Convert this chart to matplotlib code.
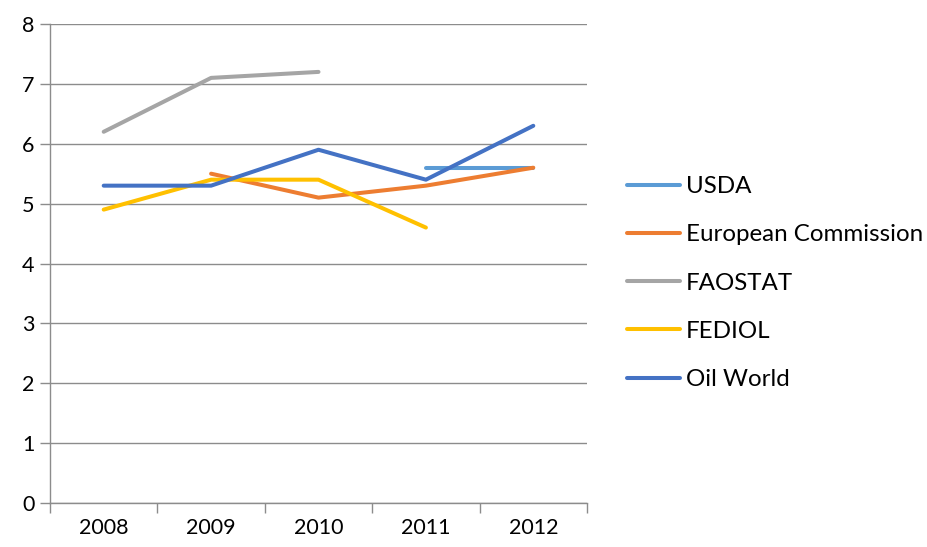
import numpy as np
import matplotlib
matplotlib.use("Agg")
import matplotlib.pyplot as plt

years = ["2008", "2009", "2010", "2011", "2012"]
usda = [np.nan, np.nan, np.nan, 5.6, 5.6]
eu_comm = [np.nan, 5.5, 5.1, 5.3, 5.6]
faostat = [6.2, 7.1, 7.2, np.nan, np.nan]
fediol = [4.9, 5.4, 5.4, 4.6, np.nan]
oil_world = [5.3, 5.3, 5.9, 5.4, 6.3]

series = [("USDA", usda, "#5B9BD5"),
          ("European Commission", eu_comm, "#ED7D31"),
          ("FAOSTAT", faostat, "#A5A5A5"),
          ("FEDIOL", fediol, "#FFC000"),
          ("Oil World", oil_world, "#4472C4")]

plt.rcParams["font.family"] = ["Lato", "DejaVu Sans"]
fig = plt.figure(figsize=(9.28, 5.47), dpi=100)
ax = fig.add_axes([50 / 928, 1 - 503 / 547, 537 / 928, 479 / 547])

x = np.arange(len(years))
for name, vals, col in series:
    ax.plot(x, vals, color=col, lw=2.9, label=name, solid_capstyle="round")

grid_c = "#8c8c8c"
ax.set_ylim(0, 8)
ax.set_xlim(-0.5, len(years) - 0.5)
ax.set_yticks(range(0, 9))
ax.yaxis.grid(True, color=grid_c, lw=1)
ax.set_axisbelow(True)
ax.set_xticks(x)
ax.set_xticklabels(years)
ax.set_xticks(np.arange(-0.5, len(years)), minor=True)
ax.tick_params(axis="x", which="major", length=0, pad=11, labelsize=15.5)
ax.tick_params(axis="x", which="minor", length=7, color=grid_c, width=1)
ax.tick_params(axis="y", length=7, color=grid_c, width=1, labelsize=15.5, pad=4)
for side in ("top", "right"):
    ax.spines[side].set_visible(False)
for side in ("left", "bottom"):
    ax.spines[side].set_color(grid_c)
    ax.spines[side].set_linewidth(1)

fig.legend(loc="upper left", bbox_to_anchor=(627 / 928, 1 - 176 / 547),
           frameon=False, fontsize=17.4, handlelength=2.2, handletextpad=0.24,
           labelspacing=1.13, borderaxespad=0, borderpad=0)

fig.savefig("out.png", dpi=100)
